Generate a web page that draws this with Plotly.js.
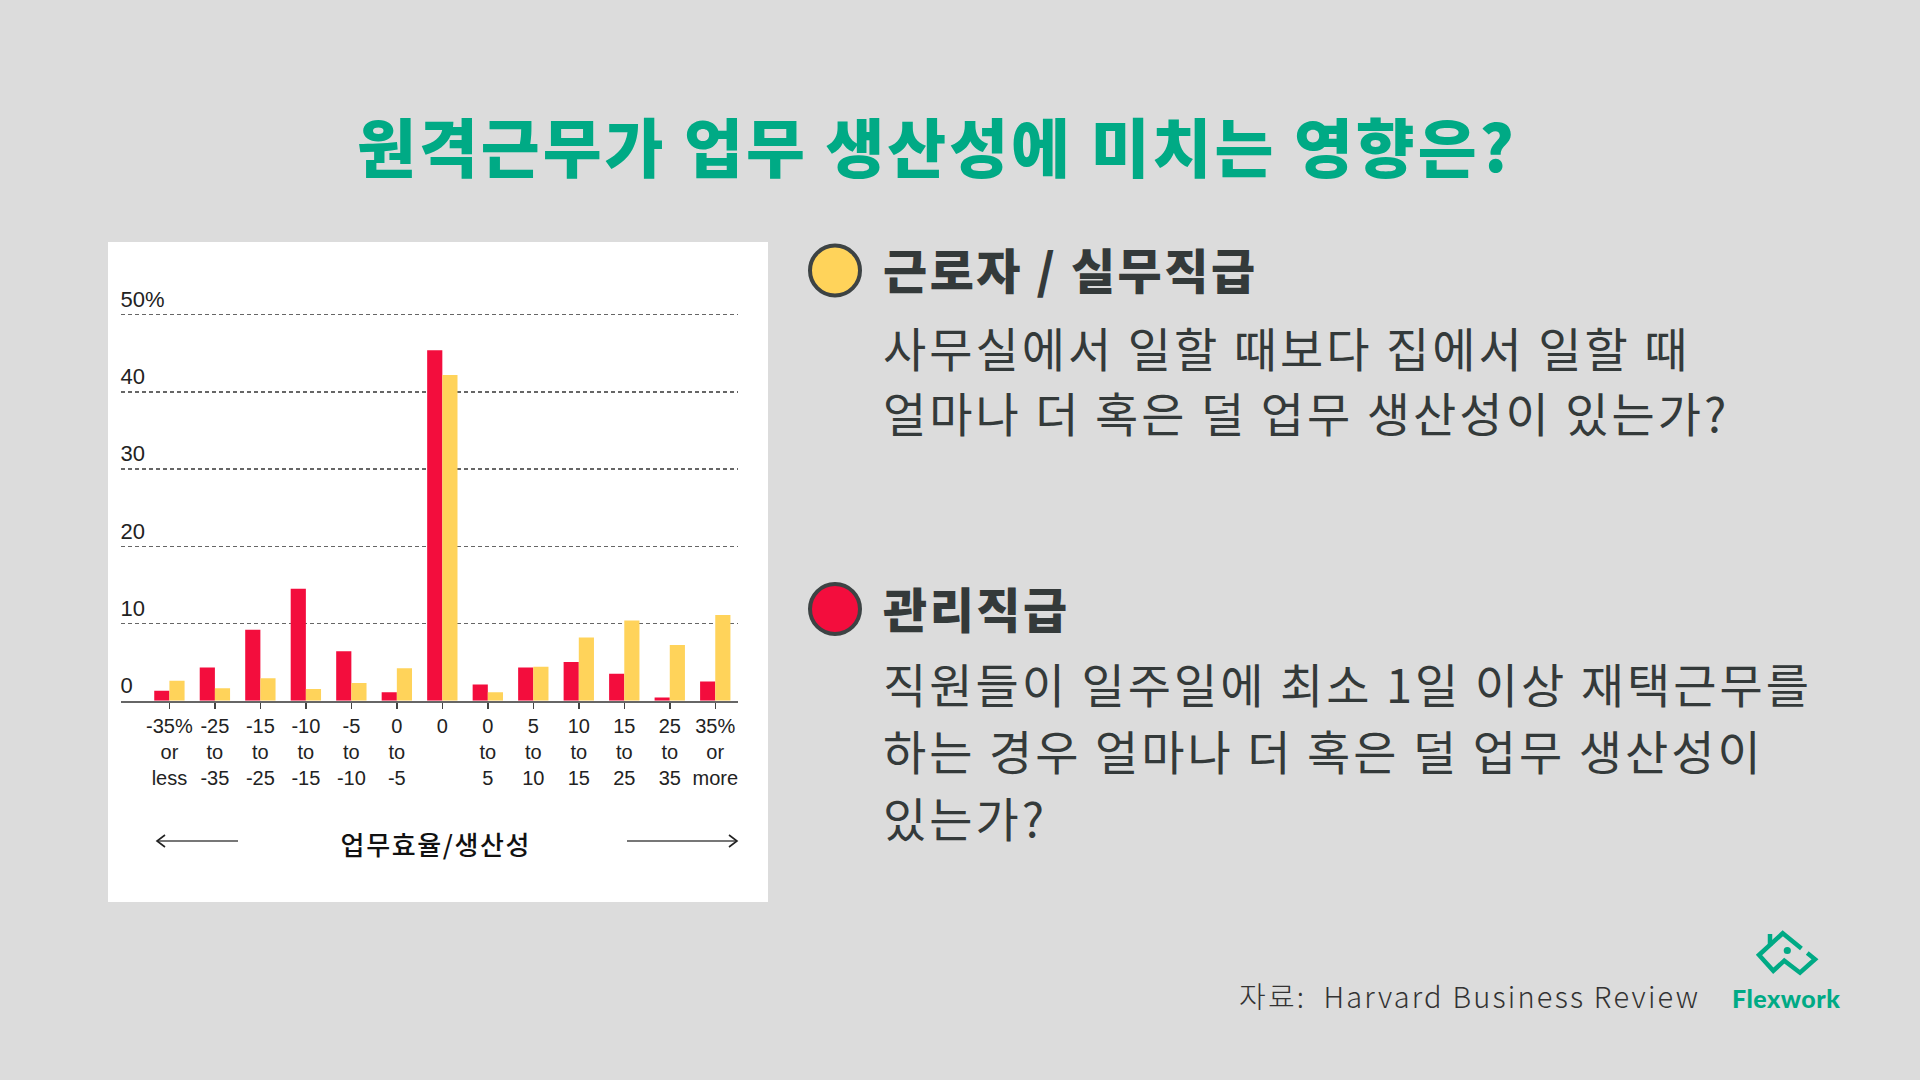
<!DOCTYPE html>
<html>
<head>
<meta charset="utf-8">
<script src="https://cdn.plot.ly/plotly-3.0.1.min.js"></script>
<style>
html,body{margin:0;padding:0;background:#dcdcdc;}
#chart{width:1920px;height:1080px;}
/* wider tracking to match the reference typeface */
g.annotation[data-index="0"] text{letter-spacing:3px;}
g.annotation[data-index="1"] text, g.annotation[data-index="2"] text{letter-spacing:2.5px;}
g.annotation[data-index="3"] text{letter-spacing:2.2px;}
g.annotation[data-index="4"] text{letter-spacing:0.5px;}
g.annotation[data-index="5"] text{letter-spacing:1.6px;}
g.annotation[data-index="6"] text, g.annotation[data-index="7"] text,
g.annotation[data-index="8"] text, g.annotation[data-index="9"] text,
g.annotation[data-index="10"] text{letter-spacing:3px;}
</style>
</head>
<body>
<div id="chart"></div>
<script>
// ---- data ----
const categories = ["-35%<br>or<br>less","-25<br>to<br>-35","-15<br>to<br>-25","-10<br>to<br>-15","-5<br>to<br>-10","0<br>to<br>-5","0","0<br>to<br>5","5<br>to<br>10","10<br>to<br>15","15<br>to<br>25","25<br>to<br>35","35%<br>or<br>more"];
const managers  = [1.3, 4.3, 9.2, 14.5, 6.4, 1.1, 45.4, 2.1, 4.3, 5.0, 3.5, 0.4, 2.5];
const employees = [2.6, 1.6, 2.9, 1.5, 2.3, 4.2, 42.2, 1.1, 4.4, 8.2, 10.4, 7.2, 11.1];
const yTickVals = [0, 10, 20, 30, 40, 50];
const yTickText = ["0", "10", "20", "30", "40", "50%"];
const seriesNames = ["관리직급", "근로자 / 실무직급"];

const titleText = "원격근무가 업무 생산성에 미치는 영향은?";
const xTitle = "업무효율/생산성";
const empBody = ["사무실에서 일할 때보다 집에서 일할 때", "얼마나 더 혹은 덜 업무 생산성이 있는가?"];
const mgrBody = ["직원들이 일주일에 최소 1일 이상 재택근무를", "하는 경우 얼마나 더 혹은 덜 업무 생산성이", "있는가?"];
const sourceText = "자료:  Harvard Business Review";
const logoText = "Flexwork";

// ---- layout helpers ----
const W = 1920, H = 1080;
const px = v => v / W;
const py = v => 1 - v / H;

const RED = "#f30d3d", YEL = "#ffd35a", GREEN = "#00aa85", DARK = "#343a3a";
const KR = "'Noto Sans CJK KR', 'Noto Sans', sans-serif";
const NARROW = "'Liberation Sans Narrow', 'Arial Narrow', 'Liberation Sans', Arial, sans-serif";

const unitPx = 7.72;            // pixels per 1% on y
const zeroPx = 700.7;
const yMax = 56;

const traces = [
  {type: "bar", name: seriesNames[0], x: categories, y: managers, marker: {color: RED}, showlegend: false, hoverinfo: "x+y"},
  {type: "bar", name: seriesNames[1], x: categories, y: employees, marker: {color: YEL}, showlegend: false, hoverinfo: "x+y"}
];

function rectPx(x0, y0, x1, y1, extra) {
  return Object.assign({type: "rect", xref: "paper", yref: "paper", x0: px(x0), x1: px(x1), y0: py(y1), y1: py(y0)}, extra);
}
function linePx(x0, y0, x1, y1, color, width) {
  return {type: "line", xref: "paper", yref: "paper", x0: px(x0), y0: py(y0), x1: px(x1), y1: py(y1), line: {color: color, width: width}};
}
function pathPx(pts, extra) {
  const d = pts.map((p, i) => (i ? "L" : "M") + px(p[0]).toFixed(6) + "," + py(p[1]).toFixed(6)).join(" ");
  return Object.assign({type: "path", xref: "paper", yref: "paper", path: d}, extra);
}
function circlePx(cx, cy, r, fill, lineColor, lw) {
  return {type: "circle", xref: "paper", yref: "paper", x0: px(cx - r), x1: px(cx + r), y0: py(cy + r), y1: py(cy - r),
          fillcolor: fill, line: {color: lineColor, width: lw}};
}

const shapes = [
  rectPx(108, 242, 768, 902, {fillcolor: "#ffffff", line: {width: 0}, layer: "below"}),
  // arrows under the axis title
  linePx(157, 841, 238, 841, "#777777", 2),
  pathPx([[165, 835], [157, 841], [165, 847]], {line: {color: "#222222", width: 1.6}}),
  linePx(627, 841, 737, 841, "#777777", 2),
  pathPx([[729, 835], [737, 841], [729, 847]], {line: {color: "#222222", width: 1.6}}),
  // legend circles
  circlePx(835, 270.5, 25, YEL, "#3d4344", 4),
  circlePx(835, 609, 25, RED, "#3d4344", 4)
];

// logo icon
(function () {
  const A = [1782.7, 933.3], R = [1815, 959.3], BR = [1800, 972.7], N = [1784.3, 960.7], BL = [1773.3, 970.7], L = [1759, 955];
  const g = t => [A[0] + (R[0] - A[0]) * t, A[1] + (R[1] - A[1]) * t];
  shapes.push(pathPx([g(0.76), R, BR, N, BL, L, A, g(0.58)], {line: {color: GREEN, width: 4.5}}));
  shapes.push(linePx(1770, 946, 1770, 934, GREEN, 4.5));
  shapes.push(circlePx(1787.3, 950.5, 3.6, GREEN, GREEN, 0));
})();

const TX = 881;
const annotations = [
  {text: titleText, x: px(937), y: py(144), xref: "paper", yref: "paper", xanchor: "center", yanchor: "middle", showarrow: false,
   font: {family: KR, size: 64, color: GREEN, weight: 900}},
  {text: seriesNames[1], x: px(TX), y: py(268), xref: "paper", yref: "paper", xanchor: "left", align: "left", yanchor: "middle", showarrow: false,
   font: {family: KR, size: 48, color: DARK, weight: 900}},
  {text: seriesNames[0], x: px(TX), y: py(607), xref: "paper", yref: "paper", xanchor: "left", align: "left", yanchor: "middle", showarrow: false,
   font: {family: KR, size: 48, color: DARK, weight: 900}},
  {text: sourceText, x: px(1237), y: py(995), xref: "paper", yref: "paper", xanchor: "left", align: "left", yanchor: "middle", showarrow: false,
   font: {family: KR, size: 29, color: "#333333", weight: 300}},
  {text: logoText, x: px(1786), y: py(998), xref: "paper", yref: "paper", xanchor: "center", yanchor: "middle", showarrow: false,
   font: {family: "Lato, 'Noto Sans', sans-serif", size: 25, color: GREEN, weight: 900}},
  {text: xTitle, x: px(436), y: py(843), xref: "paper", yref: "paper", xanchor: "center", yanchor: "middle", showarrow: false,
   font: {family: KR, size: 26, color: "#111111", weight: 500}}
];
const empY = [346, 411];
empBody.forEach((t, i) => annotations.push({text: t, x: px(TX), y: py(empY[i]), xref: "paper", yref: "paper", xanchor: "left", align: "left", yanchor: "middle",
  showarrow: false, font: {family: KR, size: 47, color: DARK, weight: 400}}));
const mgrY = [682, 749, 816];
mgrBody.forEach((t, i) => annotations.push({text: t, x: px(TX), y: py(mgrY[i]), xref: "paper", yref: "paper", xanchor: "left", align: "left", yanchor: "middle",
  showarrow: false, font: {family: KR, size: 47, color: DARK, weight: 400}}));

const layout = {
  width: W, height: H,
  margin: {l: 0, r: 0, t: 0, b: 0, pad: 0},
  paper_bgcolor: "#dcdcdc",
  plot_bgcolor: "rgba(0,0,0,0)",
  barmode: "group",
  bargap: 0.333,
  bargroupgap: 0,
  xaxis: {
    type: "category",
    domain: [px(120.6), px(738)],
    range: [-1.073, 12.5],
    showgrid: false,
    showline: true, linecolor: "#666666", linewidth: 2,
    ticks: "outside", ticklen: 6, tickwidth: 1.5, tickcolor: "#444444",
    tickfont: {family: NARROW, size: 20, color: "#222222"},
    tickangle: 0,
    automargin: false,
    fixedrange: true
  },
  yaxis: {
    domain: [py(zeroPx), py(zeroPx - yMax * unitPx)],
    range: [0, yMax],
    tickvals: yTickVals,
    ticktext: yTickText,
    ticklabelposition: "inside top",
    ticklabelstandoff: -3,
    ticks: "",
    showgrid: true, gridcolor: "#666666", gridwidth: 1.5, griddash: "4px,3px",
    zeroline: false,
    showline: false,
    tickfont: {family: NARROW, size: 22, color: "#222222"},
    automargin: false,
    fixedrange: true
  },
  shapes: shapes,
  annotations: annotations,
  showlegend: false
};

Plotly.newPlot("chart", traces, layout, {displayModeBar: false, staticPlot: true});
</script>
</body>
</html>
